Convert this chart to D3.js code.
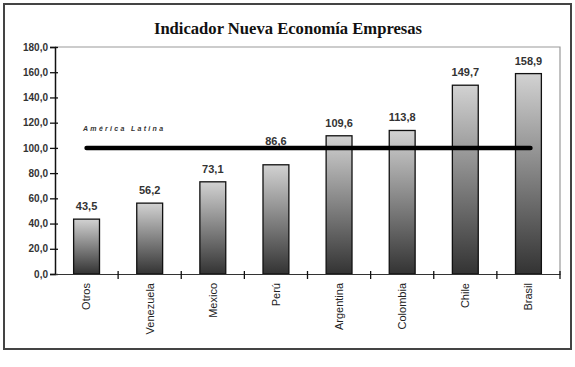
<html>
<head>
<meta charset="utf-8">
<script src="https://d3js.org/d3.v7.min.js"></script>
<style>
  body { margin: 0; background: #fff; }
</style>
</head>
<body>
<svg id="chart" width="575" height="367"></svg>
<script>
// data
const countries = ["Otros", "Venezuela", "Mexico", "Perú", "Argentina", "Colombia", "Chile", "Brasil"];
const values = [43.5, 56.2, 73.1, 86.6, 109.6, 113.8, 149.7, 158.9];
const yTicks = [0, 20, 40, 60, 80, 100, 120, 140, 160, 180];
const latamValue = 100;
const latamLabel = "América Latina";
const title = "Indicador Nueva Economía Empresas";

const svg = d3.select("#chart");
const plot = { left: 55, right: 560, top: 47, bottom: 274 };
const fmt = v => d3.format(".1f")(v).replace(".", ",");

// outer frame
svg.append("rect")
   .attr("x", 4).attr("y", 4)
   .attr("width", 567).attr("height", 345)
   .attr("fill", "#fff")
   .attr("stroke", "#444")
   .attr("stroke-width", 2);

svg.append("text")
   .attr("x", 288).attr("y", 34)
   .attr("text-anchor", "middle")
   .attr("font-family", "Liberation Serif, Times New Roman, serif")
   .attr("font-weight", "bold")
   .attr("font-size", 16.6)
   .attr("fill", "#111")
   .text(title);

const x = d3.scaleBand()
            .domain(countries)
            .range([plot.left, plot.right])
            .paddingInner(0.59)
            .paddingOuter(0.295);
const y = d3.scaleLinear()
            .domain([0, 180])
            .range([plot.bottom, plot.top]);

// plot area top / right border
svg.append("path")
   .attr("d", `M${plot.left},${plot.top}H${plot.right}V${plot.bottom}`)
   .attr("fill", "none")
   .attr("stroke", "#999")
   .attr("stroke-width", 1.2);

const grad = svg.append("defs").append("linearGradient")
                .attr("id", "barGrad")
                .attr("x1", 0).attr("y1", 0).attr("x2", 0).attr("y2", 1);
grad.append("stop").attr("offset", "0%").attr("stop-color", "#d2d2d2");
grad.append("stop").attr("offset", "100%").attr("stop-color", "#333");

svg.selectAll("rect.bar")
   .data(values)
   .join("rect")
   .attr("class", "bar")
   .attr("x", (d, i) => x(countries[i]))
   .attr("y", d => y(d))
   .attr("width", x.bandwidth())
   .attr("height", d => y(0) - y(d))
   .attr("fill", "url(#barGrad)")
   .attr("stroke", "#111")
   .attr("stroke-width", 1.3);

// labels that would sit on the reference line are lifted above it
const labelY = d => {
  const ly = y(d) - 9;
  return (ly > y(latamValue) - 12 && ly < y(latamValue) + 12) ? y(latamValue) - 3 : ly;
};
svg.selectAll("text.val")
   .data(values)
   .join("text")
   .attr("class", "val")
   .attr("x", (d, i) => x(countries[i]) + x.bandwidth() / 2)
   .attr("y", labelY)
   .attr("text-anchor", "middle")
   .attr("font-family", "Liberation Sans, Arial, sans-serif")
   .attr("font-weight", "bold")
   .attr("font-size", 11)
   .attr("fill", "#333")
   .text(d => fmt(d));

// y axis
const yAxis = svg.append("g")
                 .attr("transform", `translate(${plot.left},0)`)
                 .call(d3.axisLeft(y).tickValues(yTicks).tickFormat(fmt).tickSizeOuter(0).tickSize(5));
yAxis.select(".domain").attr("stroke", "#111").attr("stroke-width", 1.5);
yAxis.selectAll(".tick line").attr("x2", 3).attr("x1", -5).attr("stroke", "#111").attr("stroke-width", 1.3);
yAxis.selectAll(".tick text")
     .attr("x", -7)
     .attr("font-family", "Liberation Sans, Arial, sans-serif")
     .attr("font-weight", "bold")
     .attr("font-size", 10)
     .attr("fill", "#333");

// x axis
const xAxis = svg.append("g")
                 .attr("transform", `translate(0,${plot.bottom})`)
                 .call(d3.axisBottom(x).tickSize(0).tickSizeOuter(0));
xAxis.select(".domain").attr("stroke", "#333").attr("stroke-width", 1.2);
xAxis.selectAll(".tick text")
     .attr("transform", "rotate(-90)")
     .attr("x", -9).attr("y", 0).attr("dy", "0.35em")
     .attr("text-anchor", "end")
     .attr("font-family", "Liberation Sans, Arial, sans-serif")
     .attr("font-size", 11)
     .attr("fill", "#222");
const step = x.step();
svg.selectAll("line.sep")
   .data(d3.range(1, countries.length + 1))
   .join("line")
   .attr("class", "sep")
   .attr("x1", i => plot.left + i * step)
   .attr("x2", i => plot.left + i * step)
   .attr("y1", plot.bottom - 3)
   .attr("y2", plot.bottom + 5)
   .attr("stroke", "#111")
   .attr("stroke-width", 1.3);

// América Latina reference line, from first to last bar centre
svg.append("line")
   .attr("x1", x(countries[0]) + x.bandwidth() / 2)
   .attr("x2", x(countries[countries.length - 1]) + x.bandwidth() / 2 + 2)
   .attr("y1", y(latamValue)).attr("y2", y(latamValue))
   .attr("stroke", "#000")
   .attr("stroke-width", 4.5)
   .attr("stroke-linecap", "round");

svg.append("text")
   .attr("x", 83).attr("y", 131)
   .attr("font-family", "Liberation Sans, Arial, sans-serif")
   .attr("font-weight", "bold")
   .attr("font-style", "italic")
   .attr("font-size", 7)
   .attr("letter-spacing", 2.3)
   .attr("fill", "#333")
   .text(latamLabel);
</script>
</body>
</html>
